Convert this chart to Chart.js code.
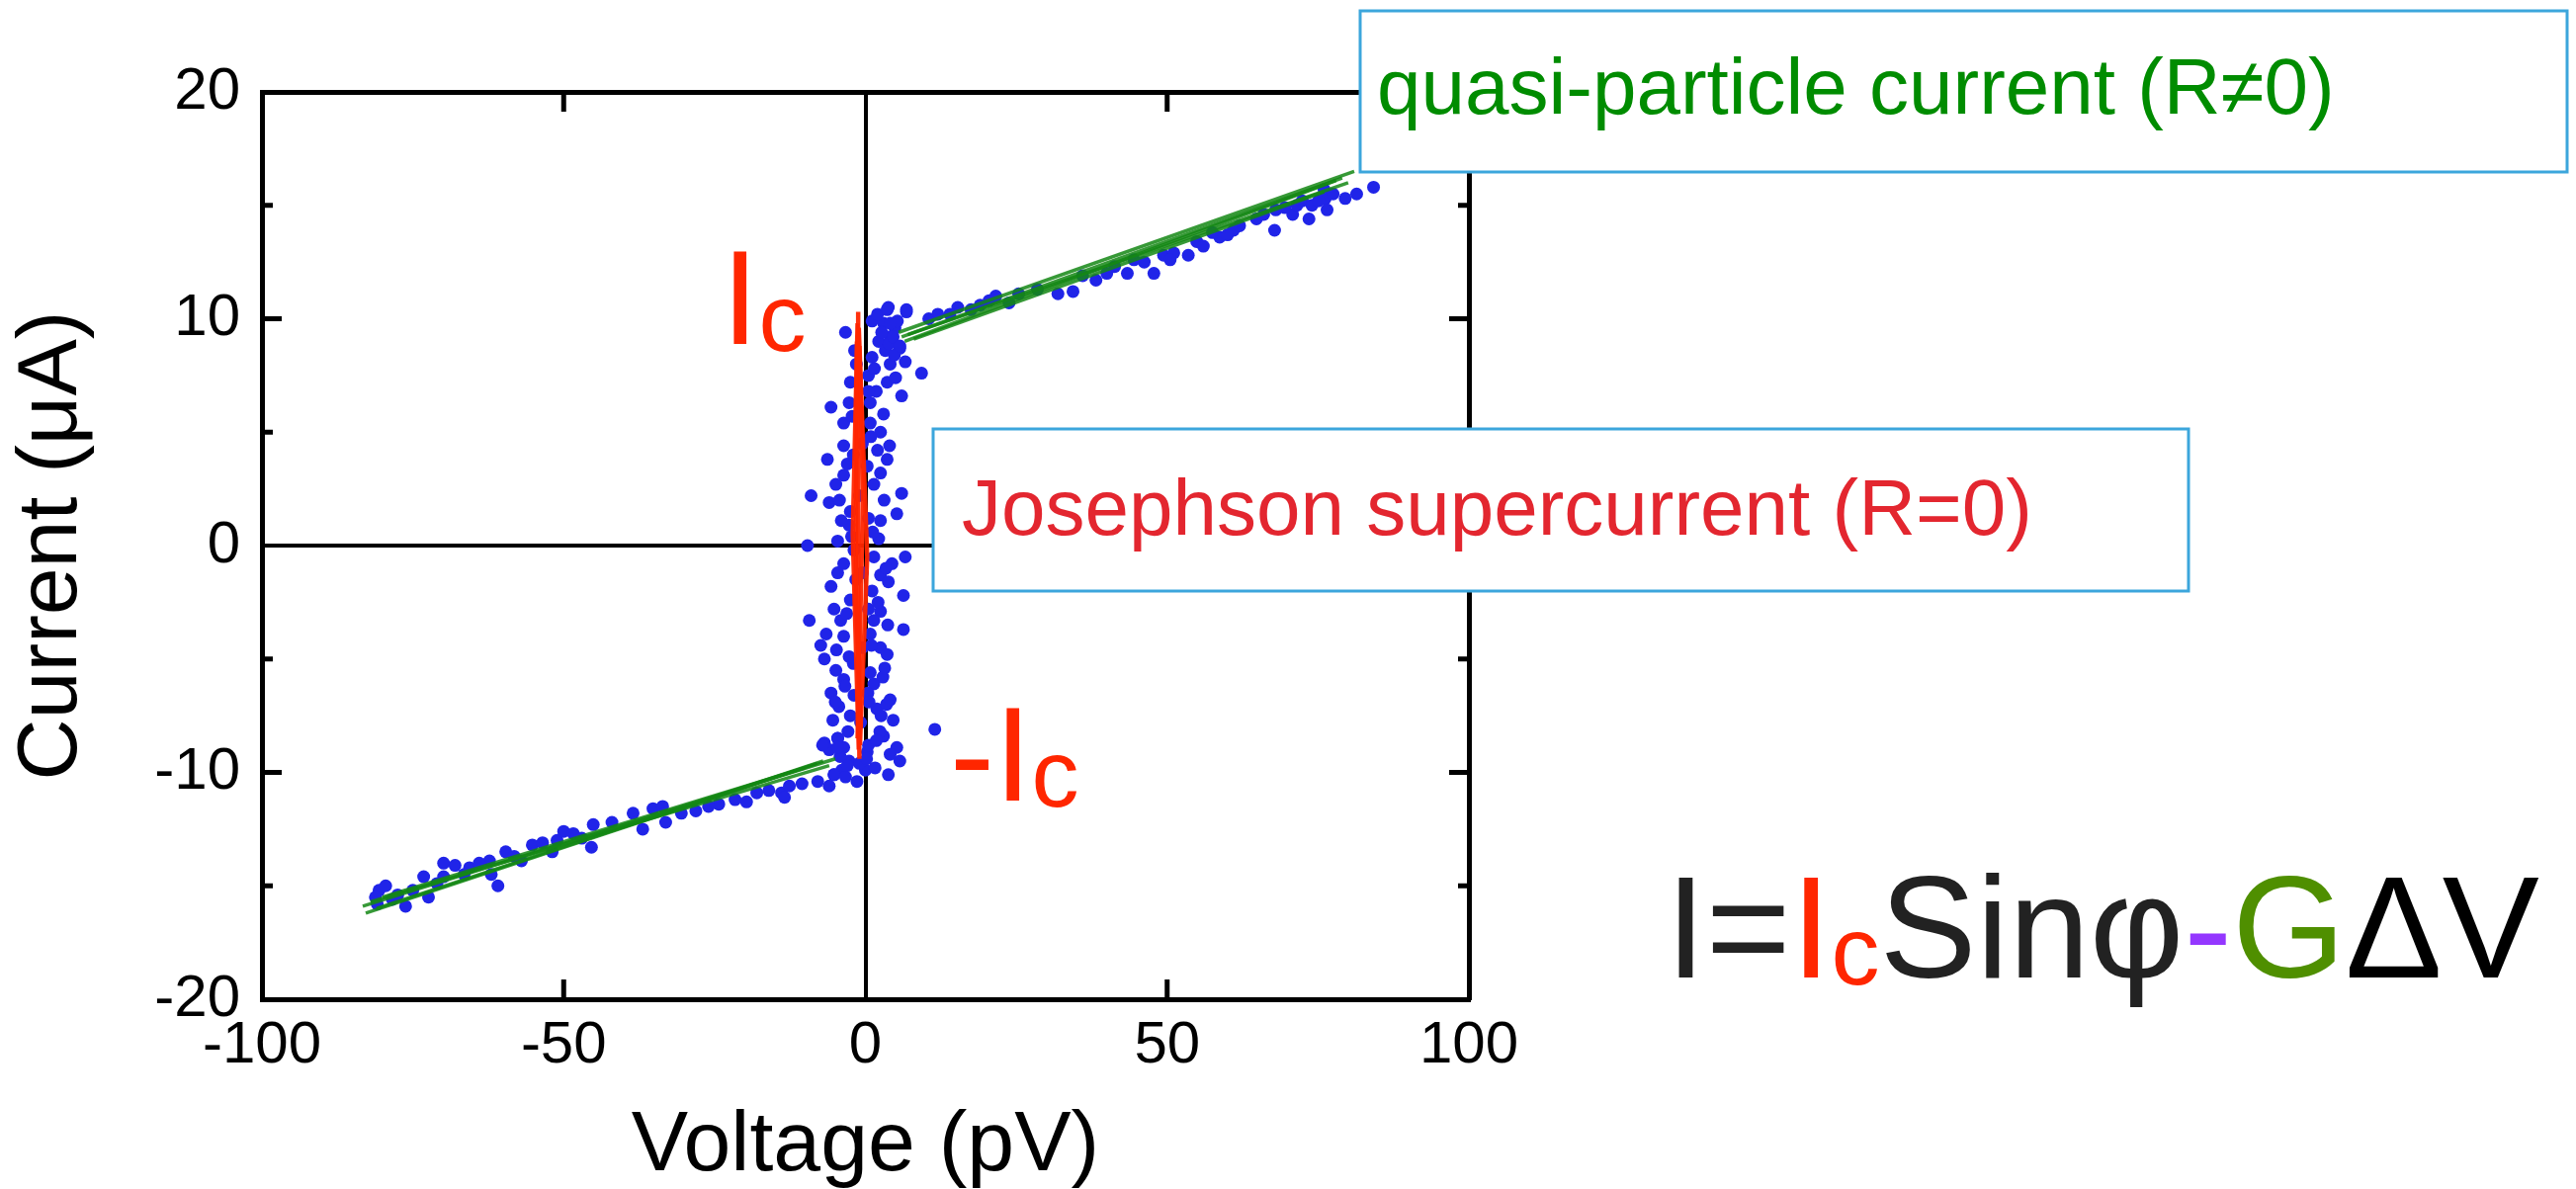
<!DOCTYPE html>
<html>
<head>
<meta charset="utf-8">
<script src="https://cdn.jsdelivr.net/npm/chart.js@4.4.1/dist/chart.umd.min.js"></script>
<style>
  html, body { margin: 0; padding: 0; background: #fff; }
  canvas { display: block; }
</style>
</head>
<body>
<canvas id="ivChart" width="2606" height="1203"></canvas>
<script>
// measured points, supercurrent branch (V in pV, I in uA)
const cloudV = [3.8, 6.8, -3.3, 1.1, 3.0, 4.1, 5.7, 6.6, 4.1, 9.3, 1.1, 3.6, 6.0, -2.5, 0.5, -5.7, -2.7, 0.8, -3.6, 0.8,
  2.5, -3.6, -6.3, 3.6, 2.5, -3.6, -4.9, -9.0, -6.0, 1.4, 6.0, -2.5, 5.2, 2.5, -2.7, -4.6, -9.6, 2.2, 6.6, -3.6,
  1.4, 2.5, 3.8, -5.7, 1.1, 6.3, -2.5, -5.2, 2.5, -9.3, 1.4, 6.3, -6.5, -3.6, 0.8, 2.5, 3.6, -6.8, -2.7, -4.9,
  0.8, -3.6, -5.7, 1.4, 4.1, -4.4, 1.9, -2.5, 4.6, 11.5, -6.8, -4.6, 3.0, 5.2, 0.3, -2.7, 5.7, -5.2, 0.0, -1.4,
  2.2, 3.3, 4.9, 2.0, 5.0, 1.8, -1.8, 3.0, 4.0, -2.0, -4.3, 3.1, -1.9, 4.4, -4.6, 3.7, -4.1, -7.4, -1.9, 2.9,
  -5.4, 2.4, -3.6, 4.1, -1.0, 1.6, 3.8, -3.9,
  -1.5, 0.5, -0.5, 0.3, -1.0, 0.5, -0.5, 0.5, -0.5, 0.4, -0.8, 0.5,
  4.8, 2.7, 5.3, 1.5, 3.9, -2.2, 0.9, 2.0, -3.0, -4.0, 1.2, -2.3, 3.4, -1.6, 2.1, -3.1, -4.8, 1.0, -2.0, 3.2,
  -3.4, 0.6, -5.0, 2.6, -2.9, 1.8, -4.2, 3.5, -6.0, 0.2];
const cloudI = [10.5, 10.3, 9.4, 9.9, 9.8, 9.2, 8.7, 8.1, 8.0, 7.6, 8.3, 7.2, 6.6, 7.2, 7.5, 6.1, 6.3, 6.3, 5.4, 5.4,
  5.0, 4.4, 3.8, 3.8, 3.2, 3.1, 2.7, 2.2, 1.9, 2.7, 2.3, 1.5, 1.4, 1.1, 0.9, 0.2, 0.0, 0.3, -0.5, -0.8,
  -0.5, -1.3, -1.6, -1.8, -2.0, -2.2, -2.4, -2.8, -2.9, -3.3, -3.3, -3.7, -3.9, -4.0, -3.9, -4.5, -4.8, -5.0, -4.9, -5.5,
  -5.6, -5.9, -6.5, -6.1, -6.8, -7.1, -7.2, -7.5, -7.7, -8.1, -8.7, -8.5, -8.4, -8.9, -9.1, -9.5, -9.5, -10.1, -9.9, -10.4,
  9.0, 8.6, 9.6, 10.2, 7.4, 6.8, 8.6, 5.8, 4.4, 4.0, 2.0, 2.0, -0.2, -0.8, -1.2, -3.5, -3.3, -4.4, -6.6, -5.8,
  -7.7, -8.2, -8.9, -9.2, -9.6, -9.8, -10.1, -9.9,
  8.0, 6.8, 4.5, 3.5, 2.2, 1.2, -1.2, -2.8, -4.5, -6.5, -7.8, -8.8,
  8.4, 9.4, 9.9, 7.8, 8.9, 5.7, 4.8, 4.2, 3.6, 1.1, 0.6, 0.4, -1.0, -1.5, -2.5, -3.0, -4.6, -4.4, -5.2, -5.4,
  -6.2, -6.9, -6.9, -7.5, -8.2, -8.6, -9.3, -7.0, -9.0, -9.4];

// measured points, negative quasi-particle branch
const negV = [-80.6, -80.9, -78.4, -76.2, -73.2, -72.4, -69.9, -69.9, -68.0, -65.6, -62.3, -62.0, -60.9, -59.6, -58.2,
  -55.2, -51.1, -50.0, -48.4, -51.9, -45.4, -45.1, -38.5, -36.9, -35.2, -33.6, -33.1, -28.1, -24.3, -21.6,
  -19.7, -18.0, -13.9, -12.6, -13.4, -7.9, -6.0, -5.2, -3.3, -3.0, -7.1, -4.6, -4.6,
  -79.5, -75.0, -66.5, -57.0, -53.5, -42.0, -30.5, -16.0, -81.2, -77.5, -71.0, -64.0, -47.0, -26.0, -10.5];
const negI = [-15.2, -15.8, -15.6, -15.9, -14.6, -15.5, -14.0, -14.6, -14.1, -14.2, -13.9, -14.5, -15.0, -13.5, -13.7,
  -13.2, -13.0, -12.6, -12.7, -13.5, -13.3, -12.3, -11.8, -12.5, -11.6, -11.5, -12.2, -11.7, -11.4, -11.2,
  -11.3, -10.9, -10.9, -10.6, -11.1, -10.4, -10.6, -10.1, -10.2, -9.7, -8.8, -8.5, -8.9,
  -15.0, -15.2, -14.5, -13.9, -13.1, -12.2, -11.8, -10.8, -15.5, -15.4, -14.9, -14.0, -12.9, -11.5, -10.5];

// measured points, positive quasi-particle branch
const posV = [3.6, 6.8, 4.1, 4.6, 5.7, 15.3, 14.0, 20.5, 21.6, 23.8, 25.4, 31.9, 34.4, 38.2, 41.3, 43.4, 46.2, 47.8,
  49.4, 51.1, 53.5, 54.9, 56.0, 58.7, 61.0, 62.0, 64.8, 67.8, 68.0, 70.8, 72.4, 73.5, 74.0, 76.0, 76.2, 76.5,
  75.1, 79.5, 81.4, 84.2, 10.5, 17.5, 28.5, 36.0, 44.5, 57.5, 66.0, 71.5, 12.0, 19.0, 40.0, 50.5, 60.0, 69.5, 77.5];
const posI = [10.4, 10.4, 9.8, 9.2, 8.8, 10.5, 10.2, 10.8, 11.0, 10.7, 11.1, 11.1, 11.2, 11.7, 12.3, 12.0, 12.5, 12.0,
  12.8, 12.9, 12.8, 13.4, 13.2, 13.6, 13.9, 14.1, 14.4, 13.9, 14.8, 14.6, 15.2, 14.4, 15.0, 15.7, 15.3, 14.8,
  15.2, 15.3, 15.5, 15.8, 10.0, 10.4, 11.3, 11.9, 12.6, 13.8, 14.6, 15.0, 10.2, 10.6, 12.0, 12.6, 13.7, 14.9, 15.5];

// quasi-particle fit lines (start, end)
const fitV = [[-83.3, -5.0], [-82.8, -8.0], [-80.0, -10.0], [-82.0, -6.0], [-81.0, -7.0],
  [5.5, 81.0], [6.0, 79.0], [7.0, 80.0], [8.0, 76.0], [6.5, 78.0]];
const fitI = [[-15.9, -9.4], [-16.2, -9.6], [-15.5, -9.8], [-15.7, -9.7], [-16.0, -9.5],
  [9.4, 16.5], [9.2, 16.2], [9.3, 16.0], [9.1, 15.6], [9.0, 16.1]];

// Josephson supercurrent traces (top, middle, bottom)
const superV = [[-1.2, -1.2, -1.0], [-1.3, -2.1, -1.1], [-1.1, 0.3, -0.9], [-1.4, -1.6, -0.8], [-1.0, -0.4, -1.3]];
const superI = [[10.3, 0.0, -9.4], [9.8, 0.5, -9.0], [9.6, -0.5, -8.8], [9.0, -2.0, -8.0], [8.8, 2.0, -8.5]];

const xTicks = [-100, -50, 0, 50, 100];
const yTicks = [-20, -10, 0, 10, 20];
const xInnerTicks = [-50, 50];
const yInnerMajor = [-10, 10];
const yInnerMinor = [-15, -5, 5, 15];

const FONT = '"Liberation Sans", Arial, Helvetica, sans-serif';

function toPoints(vs, is) {
  return vs.map((v, k) => ({ x: v, y: is[k] }));
}

const datasets = [];
superV.forEach((vs, k) => {
  datasets.push({
    type: 'line', data: toPoints(vs, superI[k]), borderColor: 'rgba(255,38,0,0.95)',
    borderWidth: 4.5, pointRadius: 0, fill: false
  });
});
fitV.forEach((vs, k) => {
  datasets.push({
    type: 'line', data: toPoints(vs, fitI[k]), borderColor: 'rgba(20,135,20,0.85)',
    borderWidth: 3.5, pointRadius: 0, fill: false
  });
});
datasets.push({
  type: 'scatter',
  data: toPoints(cloudV, cloudI).concat(toPoints(negV, negI), toPoints(posV, posI)),
  backgroundColor: 'rgb(32,36,232)', borderWidth: 0, pointRadius: 6.5
});

function line(ctx, x1, y1, x2, y2) {
  ctx.beginPath(); ctx.moveTo(x1, y1); ctx.lineTo(x2, y2); ctx.stroke();
}

function runs(ctx, parts, x, base) {
  parts.forEach(p => {
    ctx.font = p.size + 'px ' + FONT;
    ctx.fillStyle = p.color;
    ctx.fillText(p.text, x, base + (p.dy || 0));
    x += ctx.measureText(p.text).width;
  });
}

function box(ctx, x, y, w, h) {
  ctx.fillStyle = '#fff';
  ctx.fillRect(x, y, w, h);
  ctx.strokeStyle = '#3ca6dc';
  ctx.lineWidth = 3;
  ctx.strokeRect(x, y, w, h);
}

const overlay = {
  id: 'overlay',
  afterDraw(chart) {
    const { ctx, chartArea: a, scales: { x, y } } = chart;
    ctx.save();
    ctx.strokeStyle = '#000';
    ctx.lineWidth = 5;
    xInnerTicks.forEach(v => {
      const px = x.getPixelForValue(v);
      line(ctx, px, a.bottom, px, a.bottom - 20);
      line(ctx, px, a.top, px, a.top + 20);
    });
    yInnerMajor.forEach(v => {
      const py = y.getPixelForValue(v);
      line(ctx, a.left, py, a.left + 20, py);
      line(ctx, a.right, py, a.right - 20, py);
    });
    yInnerMinor.forEach(v => {
      const py = y.getPixelForValue(v);
      line(ctx, a.left, py, a.left + 11, py);
      line(ctx, a.right, py, a.right - 11, py);
    });

    ctx.textBaseline = 'alphabetic';
    ctx.textAlign = 'left';

    // Ic and -Ic labels
    runs(ctx, [
      { text: 'I', size: 135, color: '#ff2600' },
      { text: 'c', size: 96, color: '#ff2600', dy: 7 }
    ], 730, 348);
    runs(ctx, [
      { text: '-', size: 135, color: '#ff2600' },
      { text: 'I', size: 135, color: '#ff2600' },
      { text: 'c', size: 96, color: '#ff2600', dy: 6 }
    ], 961, 810);

    // callout boxes
    box(ctx, 1376, 11, 1221, 163);
    ctx.font = '80px ' + FONT;
    ctx.fillStyle = '#008c00';
    ctx.fillText('quasi-particle current (R\u22600)', 1393, 115);

    box(ctx, 944, 434, 1270, 164);
    ctx.font = '80px ' + FONT;
    ctx.fillStyle = '#e3262f';
    ctx.fillText('Josephson supercurrent (R=0)', 973, 541);

    // formula
    runs(ctx, [
      { text: 'I=', size: 147, color: '#222222' },
      { text: 'I', size: 147, color: '#ff2600' },
      { text: 'c', size: 98, color: '#ff2600', dy: 7 },
      { text: 'Sin\u03c6', size: 147, color: '#222222' },
      { text: '-', size: 147, color: '#9437ff' },
      { text: 'G', size: 147, color: '#4f8f00' },
      { text: '\u0394V', size: 147, color: '#000000' }
    ], 1685, 989);
    ctx.restore();
  }
};

const zeroLine = c => (c.tick && c.tick.value === 0 ? '#000' : 'transparent');

new Chart(document.getElementById('ivChart').getContext('2d'), {
  type: 'scatter',
  data: { datasets: datasets },
  options: {
    responsive: false,
    devicePixelRatio: 1,
    animation: false,
    layout: { padding: { left: 0, top: 93, right: 1120, bottom: 0 } },
    plugins: { legend: { display: false }, tooltip: { enabled: false } },
    scales: {
      x: {
        type: 'linear', position: 'bottom', min: -100, max: 100,
        afterBuildTicks: s => { s.ticks = xTicks.map(v => ({ value: v })); },
        afterFit: s => { s.height = 192; },
        ticks: { padding: 11, color: '#000', font: { family: FONT, size: 60 }, callback: v => String(v) },
        grid: { color: zeroLine, lineWidth: 4, drawTicks: false },
        border: { display: true, color: '#000', width: 5 },
        title: { display: true, text: 'Voltage (pV)', color: '#000', padding: 0,
          font: { family: FONT, size: 86, lineHeight: 1 } }
      },
      y: {
        type: 'linear', position: 'left', min: -20, max: 20,
        afterBuildTicks: s => { s.ticks = yTicks.map(v => ({ value: v })); },
        afterFit: s => { s.width = 265; },
        ticks: { padding: 22, color: '#000', font: { family: FONT, size: 60 }, callback: v => String(v) },
        grid: { color: zeroLine, lineWidth: 4, drawTicks: false },
        border: { display: true, color: '#000', width: 5 },
        title: { display: true, text: 'Current (\u03bcA)', color: '#000', padding: { top: 10 },
          font: { family: FONT, size: 86, lineHeight: 1 } }
      },
      xTop: {
        type: 'linear', position: 'top', min: -100, max: 100,
        afterFit: s => { s.height = 0; },
        ticks: { display: false }, grid: { display: false, drawTicks: false },
        border: { display: true, color: '#000', width: 5 }
      },
      yRight: {
        type: 'linear', position: 'right', min: -20, max: 20,
        afterFit: s => { s.width = 0; },
        ticks: { display: false }, grid: { display: false, drawTicks: false },
        border: { display: true, color: '#000', width: 5 }
      }
    }
  },
  plugins: [overlay]
});
</script>
</body>
</html>
